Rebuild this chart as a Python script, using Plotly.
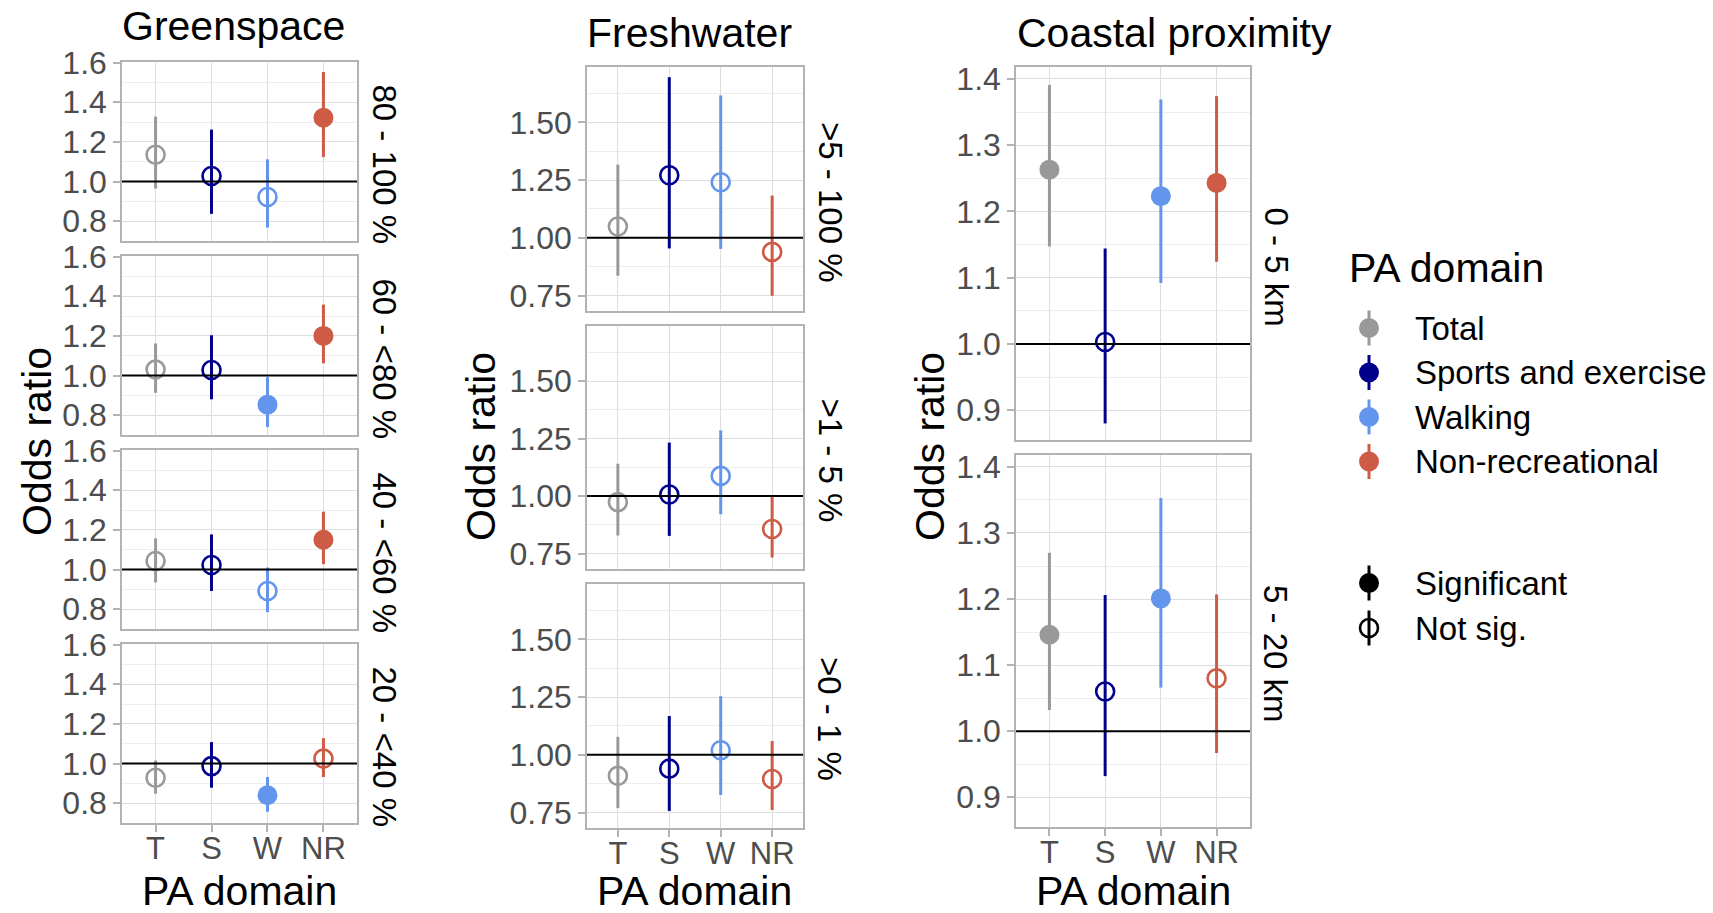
import plotly.graph_objects as go

W, H = 1713, 913
FONT = "Liberation Sans, Arial, sans-serif"

# ---------------- data ----------------
domain_codes = ["T", "S", "W", "NR"]
domain_names = ["Total", "Sports and exercise", "Walking", "Non-recreational"]
domain_colors = ["#999999", "#00008B", "#6495ED", "#CD5B45"]

green_bands = ["80 - 100 %", "60 - <80 %", "40 - <60 %", "20 - <40 %"]
green_or = [[1.135, 1.028, 0.922, 1.322],
            [1.030, 1.028, 0.853, 1.200],
            [1.043, 1.023, 0.892, 1.150],
            [0.928, 0.987, 0.840, 1.025]]
green_lo = [[0.965, 0.837, 0.768, 1.123],
            [0.913, 0.880, 0.740, 1.062],
            [0.935, 0.892, 0.785, 1.027],
            [0.848, 0.878, 0.757, 0.932]]
green_hi = [[1.328, 1.262, 1.112, 1.553],
            [1.162, 1.203, 0.992, 1.358],
            [1.157, 1.177, 1.010, 1.292],
            [1.015, 1.108, 0.932, 1.128]]
green_sig = [[0, 0, 0, 1],
             [0, 0, 1, 1],
             [0, 0, 0, 1],
             [0, 0, 1, 0]]

fresh_bands = [">5 - 100 %", ">1 - 5 %", ">0 - 1 %"]
fresh_or = [[1.049, 1.271, 1.241, 0.939],
            [0.974, 1.007, 1.088, 0.857],
            [0.909, 0.940, 1.020, 0.895]]
fresh_lo = [[0.836, 0.954, 0.952, 0.749],
            [0.829, 0.827, 0.921, 0.733],
            [0.769, 0.757, 0.826, 0.761]]
fresh_hi = [[1.317, 1.696, 1.617, 1.183],
            [1.141, 1.233, 1.286, 0.997],
            [1.078, 1.168, 1.254, 1.060]]
fresh_sig = [[0, 0, 0, 0],
             [0, 0, 0, 0],
             [0, 0, 0, 0]]

coast_bands = ["0 - 5 km", "5 - 20 km"]
coast_or = [[1.263, 1.003, 1.223, 1.243],
            [1.146, 1.060, 1.201, 1.080]]
coast_lo = [[1.147, 0.880, 1.092, 1.124],
            [1.032, 0.932, 1.066, 0.967]]
coast_hi = [[1.391, 1.144, 1.369, 1.374],
            [1.270, 1.206, 1.353, 1.207]]
coast_sig = [[1, 0, 1, 1],
             [1, 0, 1, 0]]

sig_labels = ["Significant", "Not sig."]

# ---------------- layout geometry (pixels) ----------------
groups = [
    dict(title="Greenspace", bands=green_bands, orv=green_or, lo=green_lo, hi=green_hi, sig=green_sig,
         x=(122, 357), rows=[(62, 241), (256, 435), (450, 629), (644, 823)],
         yrange=[0.70, 1.603], dtick=0.2, tick0=0.8, minor=0.1, fmt=".1f",
         title_xy=(234, 26), ytitle_x=37, ytitle_y=442, xtitle_x=239, strip_x=384),
    dict(title="Freshwater", bands=fresh_bands, orv=fresh_or, lo=fresh_lo, hi=fresh_hi, sig=fresh_sig,
         x=(587, 803), rows=[(67, 311), (326, 569), (584, 828)],
         yrange=[0.683, 1.740], dtick=0.25, tick0=0.75, minor=0.125, fmt=".2f",
         title_xy=(689, 33), ytitle_x=481, ytitle_y=447, xtitle_x=694, strip_x=830),
    dict(title="Coastal proximity", bands=coast_bands, orv=coast_or, lo=coast_lo, hi=coast_hi, sig=coast_sig,
         x=(1016, 1250), rows=[(67, 440), (455, 827)],
         yrange=[0.855, 1.418], dtick=0.1, tick0=0.9, minor=0.05, fmt=".1f",
         title_xy=(1174, 33), ytitle_x=930, ytitle_y=447, xtitle_x=1133, strip_x=1276),
]


def px_x(v):
    return v / W


def px_y(v):
    return 1 - v / H


fig = go.Figure()
layout = dict(width=W, height=H, margin=dict(l=0, r=0, t=0, b=0, pad=0, autoexpand=False),
              paper_bgcolor="white", plot_bgcolor="white", showlegend=False,
              font=dict(family=FONT, color="black"))
annotations = []
shapes = []

GRID = "#DEDEDE"
MINOR = "#EEEEEE"
BORDER = "#B3B3B3"
TICKC = "#4D4D4D"
TICK_SIZE = 32
XTICK_SIZE = 31
TITLE_SIZE = 41
STRIP_SIZE = 33
LEG_SIZE = 33

n = 0
for g in groups:
    nrows = len(g["rows"])
    for r, (ytop, ybot) in enumerate(g["rows"]):
        n += 1
        xa = "xaxis" if n == 1 else f"xaxis{n}"
        ya = "yaxis" if n == 1 else f"yaxis{n}"
        xr = "x" if n == 1 else f"x{n}"
        yr = "y" if n == 1 else f"y{n}"
        bottom = (r == nrows - 1)
        layout[xa] = dict(domain=[px_x(g["x"][0]), px_x(g["x"][1])], anchor=yr, automargin=False,
                          type="category", categoryorder="array", categoryarray=domain_codes,
                          range=[-0.6, 3.6], showgrid=True, gridcolor=GRID, gridwidth=1,
                          showline=True, mirror=True, linecolor=BORDER, linewidth=1.5,
                          ticks="outside" if bottom else "", ticklen=7, tickcolor=BORDER, tickwidth=1.5,
                          ticklabelstandoff=-10,
                          showticklabels=bottom, tickfont=dict(size=XTICK_SIZE, color=TICKC, family=FONT),
                          zeroline=False, fixedrange=True)
        layout[ya] = dict(domain=[px_y(ybot), px_y(ytop)], anchor=xr, automargin=False,
                          range=g["yrange"], tick0=g["tick0"], dtick=g["dtick"], tickformat=g["fmt"],
                          showgrid=True, gridcolor=GRID, gridwidth=1,
                          minor=dict(dtick=g["minor"], tick0=g["tick0"], showgrid=True,
                                     gridcolor=MINOR, gridwidth=1),
                          showline=True, mirror=True, linecolor=BORDER, linewidth=1.5,
                          ticks="outside", ticklen=7, tickcolor=BORDER, tickwidth=1.5,
                          tickfont=dict(size=TICK_SIZE, color=TICKC, family=FONT),
                          zeroline=False, fixedrange=True)
        # reference line at OR = 1
        shapes.append(dict(type="line", xref=f"{xr} domain", yref=yr, x0=0, x1=1, y0=1, y1=1,
                           line=dict(color="black", width=2), layer="above"))
        for d, code in enumerate(domain_codes):
            val = g["orv"][r][d]
            sig = g["sig"][r][d]
            fig.add_trace(go.Scatter(
                x=[code], y=[val], xaxis=xr, yaxis=yr, mode="markers",
                name=domain_names[d],
                marker=dict(color=domain_colors[d],
                            symbol="circle" if sig else "circle-open",
                            size=20 if sig else 18,
                            line=dict(color=domain_colors[d], width=0 if sig else 2.6)),
                error_y=dict(type="data", symmetric=False,
                             array=[g["hi"][r][d] - val], arrayminus=[val - g["lo"][r][d]],
                             color=domain_colors[d], thickness=3, width=0),
                hoverinfo="skip"))
        # strip label
        annotations.append(dict(text=g["bands"][r], xref="paper", yref="paper",
                                x=px_x(g["strip_x"]), y=px_y((ytop + ybot) / 2 + 13),
                                textangle=90, showarrow=False, xanchor="center", yanchor="middle",
                                font=dict(size=STRIP_SIZE, color="black", family=FONT)))
    # group title
    annotations.append(dict(text=g["title"], xref="paper", yref="paper",
                            x=px_x(g["title_xy"][0]), y=px_y(g["title_xy"][1]),
                            showarrow=False, xanchor="center", yanchor="middle",
                            font=dict(size=TITLE_SIZE, color="black", family=FONT)))
    annotations.append(dict(text="Odds ratio", xref="paper", yref="paper",
                            x=px_x(g["ytitle_x"]), y=px_y(g["ytitle_y"]), textangle=-90,
                            showarrow=False, xanchor="center", yanchor="middle",
                            font=dict(size=TITLE_SIZE, color="black", family=FONT)))
    annotations.append(dict(text="PA domain", xref="paper", yref="paper",
                            x=px_x(g["xtitle_x"]), y=px_y(890.5),
                            showarrow=False, xanchor="center", yanchor="middle",
                            font=dict(size=TITLE_SIZE, color="black", family=FONT)))

# ---------------- custom legend (pixel-coordinate axis) ----------------
LX0 = 1293
n += 1
lxa, lya = f"xaxis{n}", f"yaxis{n}"
lxr, lyr = f"x{n}", f"y{n}"
layout[lxa] = dict(domain=[px_x(LX0), 1], range=[LX0, W], visible=False, fixedrange=True, anchor=lyr,
                   automargin=False)
layout[lya] = dict(domain=[0, 1], range=[H, 0], visible=False, fixedrange=True, anchor=lxr,
                   automargin=False)

KEY_X = 1369
TEXT_X = 1413
row_y = [328 + 44.5 * i for i in range(len(domain_names))]
for i, name in enumerate(domain_names):
    fig.add_trace(go.Scatter(x=[KEY_X], y=[row_y[i]], xaxis=lxr, yaxis=lyr, mode="markers",
                             marker=dict(color=domain_colors[i], size=20),
                             error_y=dict(type="constant", value=17.5, color=domain_colors[i],
                                          thickness=3, width=0),
                             hoverinfo="skip"))
    annotations.append(dict(text=name, xref="paper", yref="paper", x=px_x(TEXT_X), y=px_y(row_y[i]),
                            showarrow=False, xanchor="left", yanchor="middle",
                            font=dict(size=LEG_SIZE, color="black", family=FONT)))
sig_y = [583, 628]
for i, lab in enumerate(sig_labels):
    filled = (i == 0)
    fig.add_trace(go.Scatter(x=[KEY_X], y=[sig_y[i]], xaxis=lxr, yaxis=lyr, mode="markers",
                             marker=dict(color="black", symbol="circle" if filled else "circle-open",
                                         size=20 if filled else 18,
                                         line=dict(color="black", width=0 if filled else 2.6)),
                             error_y=dict(type="constant", value=17.5, color="black",
                                          thickness=3, width=0),
                             hoverinfo="skip"))
    annotations.append(dict(text=lab, xref="paper", yref="paper", x=px_x(TEXT_X), y=px_y(sig_y[i]),
                            showarrow=False, xanchor="left", yanchor="middle",
                            font=dict(size=LEG_SIZE, color="black", family=FONT)))
annotations.append(dict(text="PA domain", xref="paper", yref="paper", x=px_x(1347), y=px_y(268),
                        showarrow=False, xanchor="left", yanchor="middle",
                        font=dict(size=TITLE_SIZE, color="black", family=FONT)))

layout["annotations"] = annotations
layout["shapes"] = shapes
fig.update_layout(**layout)

fig.write_html("out.html", config={"displayModeBar": False},
               post_script="document.body.style.margin='0px';document.body.style.overflow='hidden';")
